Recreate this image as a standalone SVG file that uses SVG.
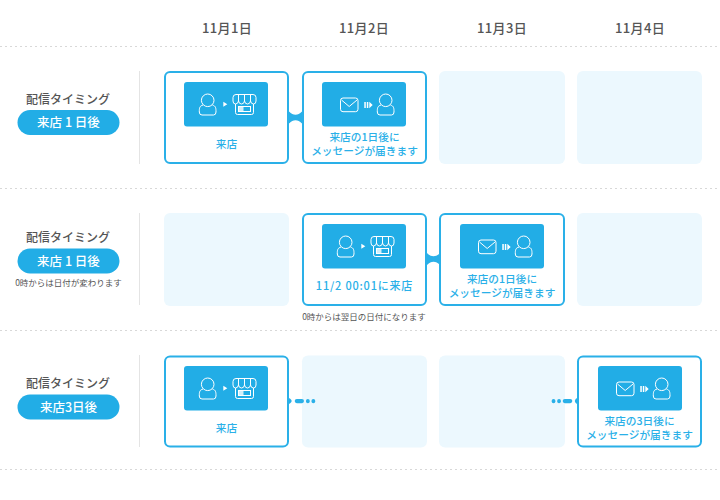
<svg xmlns="http://www.w3.org/2000/svg" width="720" height="500" viewBox="0 0 720 500">
<defs>
<style>
text{font-family:"Noto Sans CJK JP","Noto Sans",sans-serif;text-anchor:middle}
.day{font-size:13px;fill:#555;font-weight:500;letter-spacing:.4px}
.rowt{font-size:12px;fill:#555;font-weight:500}
.pilltx{font-size:12.5px;fill:#fff;font-weight:500}
.note{font-size:8.500px;fill:#555}
.lab{font-size:10.700px;fill:#2ab0e8;font-weight:500}
.wide{font-size:11px;letter-spacing:.8px}
.card{fill:#fff;stroke:#2ab0e8;stroke-width:2}
.empty{fill:#ecf8fe}
.panel{fill:#22ade6}
.pill{fill:#22ade6}
.sep{stroke:#d8d8d8;stroke-width:1;stroke-dasharray:2 3;fill:none}
.vl{stroke:#e4e4e4;stroke-width:1;fill:none}
.ic{fill:none;stroke:#fff;stroke-width:1}
.icf{fill:#fff}
.conn{fill:#2ab0e8}
</style>
<g id="visit">
<rect class="panel" width="84" height="44.500" rx="3"/>
<circle class="ic" cx="23.700" cy="18.300" r="6.300"/>
<path class="ic" d="M19 23 C15.500 24 15.300 26 15.300 30 Q15.300 33 18 33 H29.500 Q32 33 32 30 C32 26 31.800 24 28.400 23"/>
<path class="icf" d="M39.300 19.700 L43.300 22.200 L39.300 24.700Z"/>
<path class="ic" d="M49 15.500 Q49 12.500 52 12.500 H69 Q72 12.500 72 15.500 V19 Q72 22 69.500 22 Q67 22 66.500 19 Q66 22 63.500 22 Q61 22 60.500 19 Q60 22 57.500 22 Q55 22 54.500 19 Q54 22 51.500 22 Q49 22 49 19Z"/>
<path class="ic" d="M54.500 12.500 V19 M60.500 12.500 V19 M66.500 12.500 V19"/>
<path class="ic" d="M51.500 22 V30.500 Q51.500 32.500 53.500 32.500 H67.500 Q69.500 32.500 69.500 30.500 V22"/>
<rect class="ic" x="54.500" y="24.500" width="12" height="5"/>
<rect class="icf" x="54.500" y="25" width="5" height="4" opacity=".8"/>
</g>
<g id="msg">
<rect class="panel" width="84" height="44.500" rx="3"/>
<rect class="ic" x="18.500" y="16" width="17.500" height="13.700" rx="2.500"/>
<path class="ic" d="M19.500 18 L27.200 24.500 L35 18"/>
<path class="icf" d="M42.300 20 h1.500 v6 h-1.500Z M44.800 20 h1.500 v6 h-1.500Z M47.300 19.700 L50.700 23 L47.300 26.300Z"/>
<circle class="ic" cx="63.700" cy="18.300" r="6.300"/>
<path class="ic" d="M59 23 C55.500 24 55.300 26 55.300 30 Q55.300 33 58 33 H69.500 Q72 33 72 30 C72 26 71.800 24 68.400 23"/>
</g>
<path id="link" d="M0 -6 C2.500 -3.500 4 -2.800 6.500 -2.800 C9 -2.800 10.500 -3.500 13 -6 V6 C10.500 3.500 9 2.800 6.500 2.800 C4 2.800 2.500 3.500 0 6Z"/>
</defs>

<text class="day" x="227" y="32.500">11月1日</text>
<text class="day" x="364" y="32.500">11月2日</text>
<text class="day" x="502" y="32.500">11月3日</text>
<text class="day" x="640" y="32.500">11月4日</text>

<g id="separators">
<path class="sep" d="M0 46.500H720M0 188.500H720M0 330.500H720M0 469.500H720"/>
<path class="vl" d="M139.500 71V164M139.500 213V305M139.500 355V447"/>
</g>

<g id="row1-label">
<text class="rowt" x="68" y="104">配信タイミング</text>
<rect class="pill" x="17.500" y="110" width="102" height="25" rx="12.500"/>
<text class="pilltx" x="68.500" y="127">来店 1 日後</text>
</g>
<g id="row2-label">
<text class="rowt" x="68" y="242">配信タイミング</text>
<rect class="pill" x="17.500" y="248.500" width="102" height="25" rx="12.500"/>
<text class="pilltx" x="68.500" y="265.500">来店 1 日後</text>
<text class="note" x="68.500" y="286">0時からは日付が変わります</text>
</g>
<g id="row3-label">
<text class="rowt" x="68" y="388">配信タイミング</text>
<rect class="pill" x="17.500" y="394.500" width="102" height="25" rx="12.500"/>
<text class="pilltx" x="68.500" y="411.500">来店3日後</text>
</g>

<g id="r1c1"><rect class="card" x="165" y="72" width="123" height="91" rx="5"/><use href="#visit" x="184" y="82"/><text class="lab" x="226.500" y="148">来店</text></g>
<g id="r1c2"><rect class="card" x="303" y="72" width="123" height="91" rx="5"/><use href="#msg" x="322" y="82"/><text class="lab" x="364.500" y="141"><tspan x="364.500">来店の1日後に</tspan><tspan x="364.500" dy="13.700">メッセージが届きます</tspan></text></g>
<g id="r1c3"><rect class="empty" x="439" y="71" width="126" height="93" rx="6"/></g>
<g id="r1c4"><rect class="empty" x="577" y="71" width="125" height="93" rx="6"/></g>

<g id="r2c1"><rect class="empty" x="164" y="213" width="125" height="93" rx="6"/></g>
<g id="r2c2"><rect class="card" x="303" y="214" width="123" height="91" rx="5"/><use href="#visit" x="322" y="224"/><text class="lab wide" x="364.500" y="290">11/2 00:01に来店</text><text class="note" x="364" y="320">0時からは翌日の日付になります</text></g>
<g id="r2c3"><rect class="card" x="440" y="214" width="124" height="91" rx="5"/><use href="#msg" x="460" y="224"/><text class="lab" x="502" y="283"><tspan x="502">来店の1日後に</tspan><tspan x="502" dy="13.700">メッセージが届きます</tspan></text></g>
<g id="r2c4"><rect class="empty" x="577" y="213" width="125" height="93" rx="6"/></g>

<g id="r3c1"><rect class="card" x="165" y="356.500" width="123" height="90" rx="5"/><use href="#visit" x="184" y="366"/><text class="lab" x="226.500" y="432">来店</text></g>
<g id="r3c2"><rect class="empty" x="302" y="355.500" width="125" height="92" rx="6"/></g>
<g id="r3c3"><rect class="empty" x="439" y="355.500" width="126" height="92" rx="6"/></g>
<g id="r3c4"><rect class="card" x="578" y="356.500" width="123" height="90" rx="5"/><use href="#msg" x="598" y="366"/><text class="lab" x="639.500" y="425"><tspan x="639.500">来店の3日後に</tspan><tspan x="639.500" dy="13.700">メッセージが届きます</tspan></text></g>

<g id="connectors">
<use class="conn" href="#link" x="289" y="117.500"/>
<use class="conn" href="#link" x="427" y="259"/>
<g class="conn">
<path d="M288 397.500 C290 398.500 291.500 399.500 291.700 401 C291.500 402.500 290 403.500 288 404.500Z"/>
<rect x="294.700" y="399" width="9.300" height="4.200" rx="2.100"/>
<rect x="306" y="399" width="3.700" height="4.200" rx="1.800"/>
<rect x="311.500" y="399" width="3.700" height="4.200" rx="1.800"/>
<rect x="551.700" y="399" width="3.700" height="4.200" rx="1.800"/>
<rect x="557.200" y="399" width="3.700" height="4.200" rx="1.800"/>
<rect x="562.700" y="399" width="9.600" height="4.200" rx="2.100"/>
<path d="M578 397.500 C576 398.500 575 399.500 574.800 401 C575 402.500 576 403.500 578 404.500Z"/>
</g>
</g>
</svg>
